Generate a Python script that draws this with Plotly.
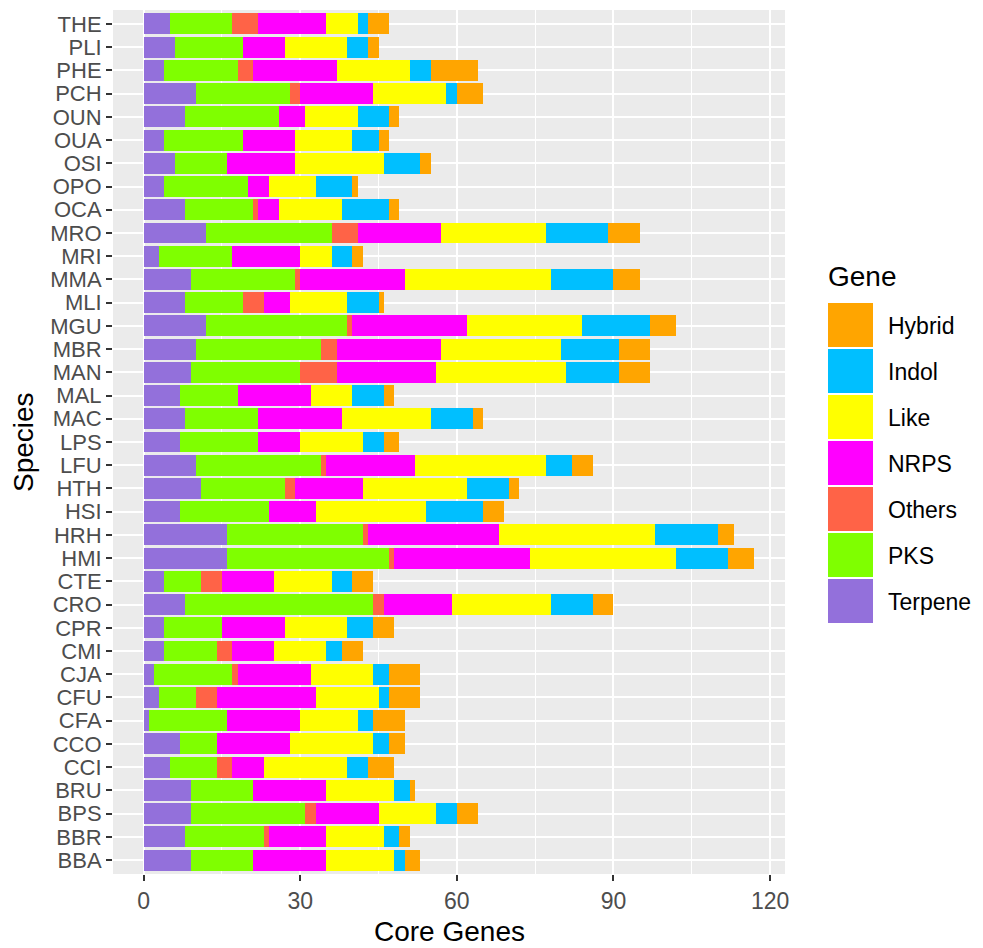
import plotly.graph_objects as go

species = ["BBA", "BBR", "BPS", "BRU", "CCI", "CCO", "CFA", "CFU", "CJA", "CMI", "CPR", "CRO", "CTE",
           "HMI", "HRH", "HSI", "HTH", "LFU", "LPS", "MAC", "MAL", "MAN", "MBR", "MGU", "MLI", "MMA",
           "MRI", "MRO", "OCA", "OPO", "OSI", "OUA", "OUN", "PCH", "PHE", "PLI", "THE"]

terpene = [9, 8, 9, 9, 5, 7, 1, 3, 2, 4, 4, 8, 4, 16, 16, 7, 11, 10, 7, 8, 7, 9, 10, 12, 8, 9, 3, 12, 8, 4, 6, 4, 8, 10, 4, 6, 5]
pks     = [12, 15, 22, 12, 9, 7, 15, 7, 15, 10, 11, 36, 7, 31, 26, 17, 16, 24, 15, 14, 11, 21, 24, 27, 11, 20, 14, 24, 13, 16, 10, 15, 18, 18, 14, 13, 12]
others  = [0, 1, 2, 0, 3, 0, 0, 4, 1, 3, 0, 2, 4, 1, 1, 0, 2, 1, 0, 0, 0, 7, 3, 1, 4, 1, 0, 5, 1, 0, 0, 0, 0, 2, 3, 0, 5]
nrps    = [14, 11, 12, 14, 6, 14, 14, 19, 14, 8, 12, 13, 10, 26, 25, 9, 13, 17, 8, 16, 14, 19, 20, 22, 5, 20, 13, 16, 4, 4, 13, 10, 5, 14, 16, 8, 13]
like    = [13, 11, 11, 13, 16, 16, 11, 12, 12, 10, 12, 19, 11, 28, 30, 21, 20, 25, 12, 17, 8, 25, 23, 22, 11, 28, 6, 20, 12, 9, 17, 11, 10, 14, 14, 12, 6]
indol   = [2, 3, 4, 3, 4, 3, 3, 2, 3, 3, 5, 8, 4, 10, 12, 11, 8, 5, 4, 8, 6, 10, 11, 13, 6, 12, 4, 12, 9, 7, 7, 5, 6, 2, 4, 4, 2]
hybrid  = [3, 2, 4, 1, 5, 3, 6, 6, 6, 4, 4, 4, 4, 5, 3, 4, 2, 4, 3, 2, 2, 6, 6, 5, 1, 5, 2, 6, 2, 1, 2, 2, 2, 5, 9, 2, 4]

genes = ["Terpene", "PKS", "Others", "NRPS", "Like", "Indol", "Hybrid"]
values = [terpene, pks, others, nrps, like, indol, hybrid]
colors = ["#9370DB", "#7FFF00", "#FF6347", "#FF00FF", "#FFFF00", "#00BFFF", "#FFA500"]
x_ticks = [0, 30, 60, 90, 120]

FONT = "Liberation Sans, Arial, sans-serif"

fig = go.Figure()
for g, v, c in zip(genes, values, colors):
    fig.add_trace(go.Bar(y=species, x=v, name=g, orientation="h", width=0.9,
                         marker=dict(color=c, line=dict(width=0)), showlegend=False))

totals = [sum(t) for t in zip(*values)]
xmax = max(totals)
pad = 0.05 * xmax

L, R, T, B = 113, 198, 10, 74
W, H = 983, 948
pw, ph = W - L - R, H - T - B

def px_to_paper_x(px):
    return (px - L) / pw

def px_to_paper_y(py):
    return (H - B - py) / ph

shapes = []
annotations = []
# legend (ggplot style), reversed order: Hybrid at top
leg_order = list(zip(genes, colors))[::-1]
for i, (g, c) in enumerate(leg_order):
    top = 303 + 46 * i
    shapes.append(dict(type="rect", xref="paper", yref="paper",
                       x0=px_to_paper_x(828), x1=px_to_paper_x(873),
                       y0=px_to_paper_y(top + 44), y1=px_to_paper_y(top),
                       fillcolor=c, line=dict(width=0)))
    annotations.append(dict(text=g, xref="paper", yref="paper",
                            x=px_to_paper_x(886), y=px_to_paper_y(top + 23),
                            xanchor="left", yanchor="middle", showarrow=False,
                            font=dict(size=23, color="#000000", family=FONT)))
annotations.append(dict(text="Gene", xref="paper", yref="paper",
                        x=px_to_paper_x(826), y=px_to_paper_y(276),
                        xanchor="left", yanchor="middle", showarrow=False,
                        font=dict(size=28, color="#000000", family=FONT)))
# axis titles
annotations.append(dict(text="Core Genes", xref="paper", yref="paper",
                        x=0.5, y=px_to_paper_y(932),
                        xanchor="center", yanchor="middle", showarrow=False,
                        font=dict(size=28, color="#000000", family=FONT)))
annotations.append(dict(text="Species", xref="paper", yref="paper",
                        x=px_to_paper_x(23), y=0.5, textangle=-90,
                        xanchor="center", yanchor="middle", showarrow=False,
                        font=dict(size=28, color="#000000", family=FONT)))

fig.update_layout(
    barmode="stack",
    width=W, height=H,
    margin=dict(l=L, r=R, t=T, b=B, autoexpand=False),
    paper_bgcolor="white",
    plot_bgcolor="#EBEBEB",
    font=dict(family=FONT, color="#4D4D4D"),
    shapes=shapes,
    annotations=annotations,
    showlegend=False,
    bargap=0.1,
    xaxis=dict(
        automargin=False,
        range=[-pad, xmax + pad],
        tickmode="array",
        tickvals=x_ticks,
        ticktext=[str(t) for t in x_ticks],
        showgrid=True, gridcolor="white", gridwidth=2.2,
        minor=dict(dtick=15, tick0=15, showgrid=True, gridcolor="white", gridwidth=1.1, ticks=""),
        zeroline=False,
        ticks="outside", ticklen=6, tickcolor="#333333", tickwidth=1.6,
        tickfont=dict(size=23, color="#4D4D4D", family=FONT),
    ),
    yaxis=dict(
        automargin=False,
        categoryorder="array", categoryarray=species,
        tickmode="array", tickvals=species, ticktext=species,
        range=[-0.6, len(species) - 0.4],
        showgrid=True, gridcolor="white", gridwidth=2.2,
        zeroline=False,
        ticks="outside", ticklen=6, tickcolor="#333333", tickwidth=1.6,
        tickfont=dict(size=22, color="#4D4D4D", family=FONT),
    ),
)

fig.write_html("out.html",
               config={"displayModeBar": False},
               post_script="document.body.style.margin='0';document.body.style.overflow='hidden';")
